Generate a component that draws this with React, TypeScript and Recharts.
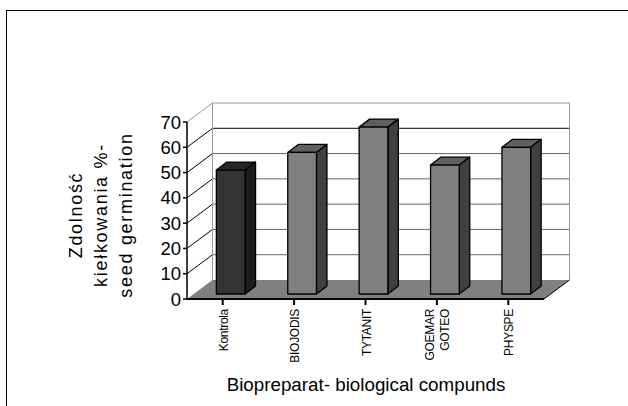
import { BarChart, Bar, XAxis, YAxis, CartesianGrid } from 'recharts'

const categories = ['Kontrola', 'BIOJODIS', 'TYTANIT', 'GOEMAR GOTEO', 'PHYSPE']
const germination = [49, 56, 66, 51, 58]
const yTicks = [0, 10, 20, 30, 40, 50, 60, 70]
const yTitle = ['Zdolność', 'kiełkowania %-', 'seed germination']
const xTitle = 'Biopreparat- biological compunds'

const data = categories.map((name, i) => ({ name, value: germination[i] }))

const FONT = '"Liberation Sans", Arial, sans-serif'
// depth of the fake 3d box
const DX = 25.5
const DY = -19

// one row of the back wall per y tick, floor and top edge are the first and last row
function WallRow({ x1, x2, y1, index }: any) {
  if (index === 0) {
    return (
      <polygon
        points={`${x1},${y1} ${x1 + DX},${y1 + DY} ${x2 + DX},${y1 + DY} ${x2},${y1}`}
        fill="#808080"
      />
    )
  }
  const last = index === yTicks.length - 1
  const color = last ? '#999' : yTicks[index] === 60 ? '#000' : '#666'
  return (
    <g fill="none">
      <line x1={x1 + DX} x2={x2 + DX} y1={y1 + DY} y2={y1 + DY} stroke={color} />
      <line x1={x1} x2={x1 + DX} y1={y1} y2={y1 + DY} stroke={last ? '#999' : '#000'} />
      {last && (
        <>
          <line x1={x1 + DX} x2={x1 + DX} y1={y1 + DY} y2={y1 + DY + 177} stroke="#999" />
          <line x1={x2 + DX} x2={x2 + DX} y1={y1 + DY} y2={y1 + DY + 177} stroke="#999" />
          <line x1={x2} x2={x2 + DX} y1={y1 + 177} y2={y1 + DY + 177} stroke="#000" />
        </>
      )}
    </g>
  )
}

function Bar3D({ x, y, width, height, index }: any) {
  const front = index === 0 ? '#333333' : '#808080'
  const top = index === 0 ? '#262626' : '#606060'
  const side = index === 0 ? '#1c1c1c' : '#404040'
  const w = 28.7
  const d = 10.5
  const lift = 8
  const l = x + (width - w) / 2 + 8
  const r = l + w
  const t = y - 5
  const b = y + height - 5
  return (
    <g stroke="#000" strokeWidth={1.3} strokeLinejoin="round">
      <polygon points={`${l},${t} ${l + d},${t - lift} ${r + d},${t - lift} ${r},${t}`} fill={top} />
      <polygon points={`${r},${t} ${r + d},${t - lift} ${r + d},${b - lift} ${r},${b}`} fill={side} />
      <rect x={l} y={t} width={w} height={b - t} fill={front} />
    </g>
  )
}

function XTick({ x, y, payload }: any) {
  const words = String(payload.value).split(' ')
  const lines = words.length > 1 ? words : [payload.value]
  return (
    <g>
      {lines.map((line: string, i: number) => {
        const tx = x + 5 + (i - (lines.length - 1) / 2) * 15
        return (
          <text
            key={line}
            transform={`translate(${tx},${y + 2}) rotate(-90)`}
            textAnchor="end"
            fontFamily={FONT}
            fontSize={12}
            letterSpacing={-0.3}
            fill="#000"
          >
            {line}
          </text>
        )
      })}
    </g>
  )
}

export default function App() {
  return (
    <div style={{ position: 'absolute', left: 0, top: 0, width: 628, height: 406, background: '#fff', overflow: 'hidden' }}>
      <div
        style={{
          position: 'absolute',
          left: 6,
          top: 10,
          width: 640,
          height: 420,
          borderTop: '1px solid #000',
          borderLeft: '1.5px solid #000',
        }}
      />
      <div style={{ position: 'absolute', left: 0, top: 0 }}>
        <BarChart
          width={628}
          height={406}
          data={data}
          margin={{ top: 122, right: 84, bottom: 0, left: 0 }}
          barCategoryGap="60%"
        >
          <CartesianGrid vertical={false} horizontal={<WallRow />} />
          <XAxis
            dataKey="name"
            interval={0}
            height={107}
            stroke="#000"
            strokeWidth={2}
            tickSize={6}
            tick={<XTick />}
          />
          <YAxis
            domain={[0, 70]}
            ticks={yTicks}
            width={187}
            interval={0}
            stroke="#000"
            strokeWidth={1.5}
            tickSize={4}
            tickMargin={2}
            tick={{ fontSize: 18.5, fill: '#000', fontFamily: FONT }}
          />
          <Bar dataKey="value" isAnimationActive={false} shape={<Bar3D />} />
          {yTitle.map((line, i) => (
            <text
              key={line}
              transform={`translate(${82 + i * 25},215) rotate(-90)`}
              textAnchor="middle"
              fontFamily={FONT}
              fontSize={18}
              letterSpacing={1.7}
              fill="#000"
            >
              {line}
            </text>
          ))}
          <text x={366} y={391} textAnchor="middle" fontFamily={FONT} fontSize={18.8} fill="#000">
            {xTitle}
          </text>
        </BarChart>
      </div>
    </div>
  )
}
